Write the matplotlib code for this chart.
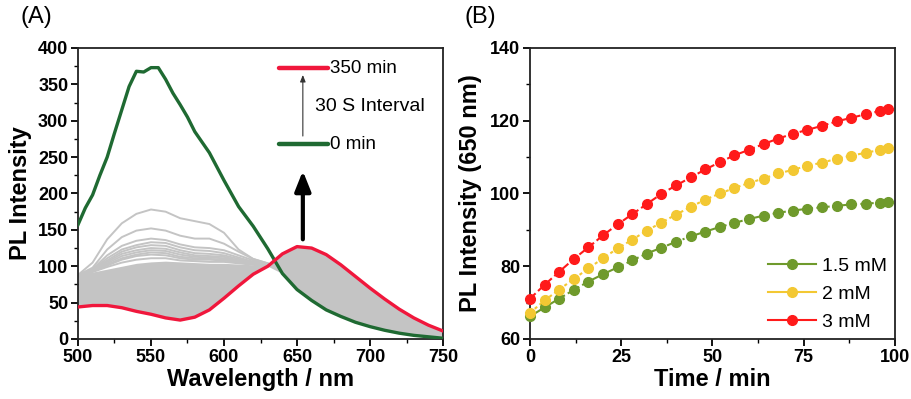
import matplotlib
matplotlib.use("Agg")
import matplotlib.pyplot as plt
from matplotlib.ticker import MultipleLocator

plt.rcParams['font.family'] = ['Liberation Sans', 'DejaVu Sans']

# ---------------- Panel A data ----------------
wl_green = [500, 505, 510, 515, 520, 525, 530, 535, 540, 545, 550, 555, 560, 565, 570, 575, 580,
            590, 600, 610, 620, 630, 640, 650, 660, 670, 680, 690, 700, 710, 720, 730, 740, 750]
pl_0min = [157, 180, 198, 225, 250, 283, 315, 347, 368, 367, 373, 373, 357, 338, 322, 305, 285,
           256, 218, 182, 155, 124, 90, 68, 53, 40, 31, 23, 17, 12, 8, 5, 3, 1]

wl = [500, 510, 520, 530, 540, 550, 560, 570, 580, 590, 600, 610, 620, 630,
      640, 650, 660, 670, 680, 690, 700, 710, 720, 730, 740, 750]
pl_350min = [44, 46, 46, 43, 38, 34, 29, 26, 30, 40, 56, 73, 89, 100,
             117, 127, 125, 116, 102, 86, 70, 55, 41, 29, 19, 11]

# dense grey band of intermediate spectra (lower / upper envelope)
band_low = [44, 46, 46, 43, 38, 34, 29, 26, 30, 40, 56, 73, 89, 100,
            90, 68, 53, 40, 31, 23, 17, 12, 8, 5, 3, 1]
band_high = [90, 92, 96, 100, 104, 106, 107, 106, 105, 104, 104, 103, 102, 103,
             117, 127, 125, 116, 102, 86, 70, 55, 41, 29, 19, 11]

# distinct early intermediate spectra (500-630 nm)
wl_grey = [500, 510, 520, 530, 540, 550, 560, 570, 580, 590, 600, 610, 620, 630]
grey_spectra = [
    [88, 105, 137, 159, 172, 178, 175, 166, 162, 158, 146, 123, 110, 104],
    [88, 98, 123, 140, 149, 152, 149, 142, 138, 138, 131, 120, 110, 104],
    [87, 96, 115, 128, 135, 138, 136, 130, 126, 125, 122, 115, 108, 103],
    [87, 95, 111, 123, 129, 133, 132, 126, 122, 121, 118, 112, 106, 102],
    [87, 95, 108, 120, 126, 129, 128, 122, 118, 117, 115, 110, 105, 102],
    [87, 94, 106, 117, 122, 125, 124, 119, 115, 114, 113, 108, 104, 101],
    [87, 94, 104, 114, 119, 122, 121, 116, 113, 112, 111, 107, 104, 101],
    [86, 93, 102, 111, 116, 119, 118, 113, 111, 110, 109, 106, 103, 101],
    [86, 93, 101, 109, 114, 116, 115, 111, 109, 109, 108, 105, 103, 101],
    [86, 92, 99, 105, 109, 111, 111, 108, 107, 106, 106, 104, 102, 100],
]

# annotation anchors (data coords of panel A)
key_x = [638, 671]
key_y_end, key_y_start = 372, 268
thin_arrow_x, thin_arrow_y = 654, [279, 363]
big_arrow_x, big_arrow_y = 654, [137, 231]

# ---------------- Panel B data ----------------
time_min = [0, 4, 8, 12, 16, 20, 24, 28, 32, 36, 40, 44, 48, 52, 56, 60, 64, 68, 72, 76,
            80, 84, 88, 92, 96, 98]
pl_15mM = [66.2, 68.7, 71.1, 73.5, 75.8, 77.8, 79.7, 81.6, 83.5, 85.1, 86.7, 88.2, 89.5, 90.8,
           91.9, 93.0, 93.9, 94.7, 95.3, 95.8, 96.2, 96.6, 97.0, 97.2, 97.5, 97.6]
pl_2mM = [67.2, 70.6, 73.6, 76.5, 79.4, 82.2, 84.9, 87.3, 89.8, 92.0, 94.2, 96.3, 98.3, 100.0,
          101.5, 102.9, 104.1, 105.5, 106.5, 107.6, 108.5, 109.5, 110.4, 111.2, 112.0, 112.4]
pl_3mM = [71.1, 74.9, 78.5, 82.0, 85.2, 88.5, 91.5, 94.3, 97.1, 99.9, 102.2, 104.4, 106.6, 108.6,
          110.5, 112.0, 113.6, 115.1, 116.4, 117.5, 118.6, 119.8, 120.8, 121.8, 122.7, 123.3]
labels_B = ['1.5 mM', '2 mM', '3 mM']

# ---------------- Figure ----------------
fig = plt.figure(figsize=(9.11, 3.99), dpi=100)
axA = fig.add_axes([0.0856, 0.1504, 0.4007, 0.7293])
axB = fig.add_axes([0.5818, 0.1504, 0.4006, 0.7293])

GREEN = '#1f6a32'
RED = '#f0173c'
GREY = '#c4c4c4'

axA.fill_between(wl, band_low, band_high, color=GREY, lw=0, zorder=1)
for s in grey_spectra:
    axA.plot(wl_grey, s, color=GREY, lw=1.4, zorder=2)
axA.plot(wl_green, pl_0min, color=GREEN, lw=2.4, zorder=3)
axA.plot(wl, pl_350min, color=RED, lw=2.4, zorder=4)

axA.set_xlim(500, 750)
axA.set_ylim(0, 400)
axA.xaxis.set_major_locator(MultipleLocator(50))
axA.xaxis.set_minor_locator(MultipleLocator(25))
axA.yaxis.set_major_locator(MultipleLocator(50))
axA.yaxis.set_minor_locator(MultipleLocator(25))
axA.set_xlabel('Wavelength / nm', fontsize=17, fontweight='bold', labelpad=2)
axA.set_ylabel('PL Intensity', fontsize=17, fontweight='bold', labelpad=4)

# key lines and arrows
axA.plot(key_x, [key_y_end] * 2, color=RED, lw=3.2, solid_capstyle='round', zorder=5)
axA.plot(key_x, [key_y_start] * 2, color=GREEN, lw=3.2, solid_capstyle='round', zorder=5)
axA.text(key_x[1] + 1.5, key_y_end, '350 min', fontsize=13.5, va='center', ha='left')
axA.text(key_x[1] + 1.5, key_y_start, '0 min', fontsize=13.5, va='center', ha='left')
axA.text(thin_arrow_x + 8.5, (key_y_end + key_y_start) / 2, '30 S Interval', fontsize=14,
         va='center', ha='left')
axA.annotate('', xy=(thin_arrow_x, thin_arrow_y[1]), xytext=(thin_arrow_x, thin_arrow_y[0]),
             arrowprops=dict(arrowstyle='-|>,head_length=0.5,head_width=0.2', lw=0.8,
                             color='#333333', mutation_scale=8, shrinkA=0, shrinkB=0), zorder=6)
axA.annotate('', xy=(big_arrow_x, big_arrow_y[1]), xytext=(big_arrow_x, big_arrow_y[0]),
             arrowprops=dict(arrowstyle='-|>,head_length=0.6,head_width=0.24', lw=3,
                             color='black', mutation_scale=20, shrinkA=0, shrinkB=0), zorder=6)

# Panel B
colB = ['#6f9a2c', '#f3c833', '#ff1a1a']
styles = ['-.', (0, (1.5, 1.5)), '--']
for y, c, ls, lab in zip([pl_15mM, pl_2mM, pl_3mM], colB, styles, labels_B):
    axB.plot(time_min, y, color=c, ls=ls, lw=1.5, zorder=3)
    axB.plot([], [], color=c, ls='-', lw=1.5, marker='o', ms=7, label=lab)
    axB.plot(time_min, y, color=c, ls='none', marker='o', ms=7, zorder=4, clip_on=False)

axB.set_xlim(0, 100)
axB.set_ylim(60, 140)
axB.xaxis.set_major_locator(MultipleLocator(25))
axB.xaxis.set_minor_locator(MultipleLocator(12.5))
axB.yaxis.set_major_locator(MultipleLocator(20))
axB.yaxis.set_minor_locator(MultipleLocator(10))
axB.set_xlabel('Time / min', fontsize=17, fontweight='bold', labelpad=2)
axB.set_ylabel('PL Intensity (650 nm)', fontsize=17, fontweight='bold', labelpad=6)
axB.legend(loc='lower right', bbox_to_anchor=(1.0, 0.0), frameon=False, fontsize=14,
           handlelength=2.5, handletextpad=0.3, labelspacing=0.55, borderaxespad=0.0)

for ax in (axA, axB):
    for sp in ax.spines.values():
        sp.set_linewidth(1.3)
        sp.set_color('#222222')
    ax.tick_params(which='major', direction='out', length=5, width=1.3, labelsize=13,
                   top=False, right=False, pad=2)
    ax.tick_params(which='minor', direction='out', length=3, width=1.0, top=False, right=False)
    for lbl in ax.get_xticklabels() + ax.get_yticklabels():
        lbl.set_fontweight('bold')

fig.text(0.022, 0.985, '(A)', fontsize=17, va='top', ha='left')
fig.text(0.51, 0.985, '(B)', fontsize=17, va='top', ha='left')

fig.savefig('out.png', dpi=100)
